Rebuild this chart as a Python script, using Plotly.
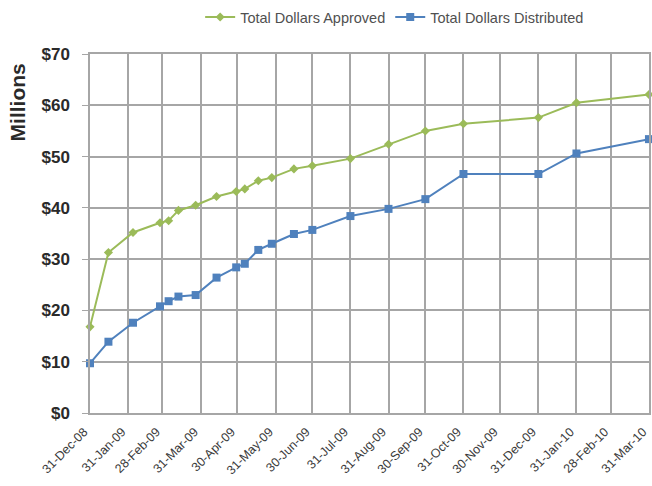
import plotly.graph_objects as go

dates = ["2008-12-31", "2009-01-15", "2009-02-04", "2009-02-26", "2009-03-05",
         "2009-03-13", "2009-03-27", "2009-04-13", "2009-04-29", "2009-05-06",
         "2009-05-17", "2009-05-28", "2009-06-15", "2009-06-30", "2009-07-31",
         "2009-08-31", "2009-09-30", "2009-10-31", "2009-12-31", "2010-01-31",
         "2010-03-31"]
approved = [16.8, 31.3, 35.2, 37.1, 37.5, 39.5, 40.5, 42.2, 43.2, 43.7,
            45.3, 45.9, 47.6, 48.2, 49.6, 52.4, 55.0, 56.4, 57.6, 60.5, 62.1]
distributed = [9.7, 13.9, 17.6, 20.8, 21.8, 22.7, 23.0, 26.4, 28.4, 29.1,
               31.8, 33.0, 34.9, 35.7, 38.4, 39.8, 41.7, 46.6, 46.6, 50.6, 53.4]

tick_dates = ["2008-12-31", "2009-01-31", "2009-02-28", "2009-03-31", "2009-04-30",
              "2009-05-31", "2009-06-30", "2009-07-31", "2009-08-31", "2009-09-30",
              "2009-10-31", "2009-11-30", "2009-12-31", "2010-01-31", "2010-02-28",
              "2010-03-31"]
tick_labels = ["31-Dec-08", "31-Jan-09", "28-Feb-09", "31-Mar-09", "30-Apr-09",
               "31-May-09", "30-Jun-09", "31-Jul-09", "31-Aug-09", "30-Sep-09",
               "31-Oct-09", "30-Nov-09", "31-Dec-09", "31-Jan-10", "28-Feb-10",
               "31-Mar-10"]
y_ticks = [0, 10, 20, 30, 40, 50, 60, 70]
y_labels = ["$0", "$10", "$20", "$30", "$40", "$50", "$60", "$70"]

fig = go.Figure()
fig.add_trace(go.Scatter(
    x=dates, y=approved, name="Total Dollars Approved", mode="lines+markers",
    line=dict(color="#9BBB59", width=2),
    marker=dict(symbol="diamond", size=7, color="#9BBB59"),
    cliponaxis=False,
))
fig.add_trace(go.Scatter(
    x=dates, y=distributed, name="Total Dollars Distributed", mode="lines+markers",
    line=dict(color="#4F81BD", width=2),
    marker=dict(symbol="square", size=8, color="#4F81BD"),
    cliponaxis=False,
))

grid = "#a6a6a6"
fig.update_layout(
    width=652, height=486,
    margin=dict(l=90, r=3, t=54, b=73, autoexpand=False),
    paper_bgcolor="white", plot_bgcolor="white",
    font=dict(family="Liberation Sans, Arial", color="#404040"),
    legend=dict(orientation="h", x=0.545, xanchor="center", y=1.103, yanchor="middle",
                font=dict(size=14.5, family="Liberation Sans, Arial", color="#505050"),
                itemwidth=30, tracegroupgap=0),
    xaxis=dict(
        type="date", range=["2008-12-31", "2010-03-31 01:00"],
        tickmode="array", tickvals=tick_dates, ticktext=tick_labels,
        tickangle=-45, tickfont=dict(size=12.5, color="#3a3a3a", family="Liberation Sans, Arial"),
        ticklabeloverflow="allow", ticklabelshift=-6,
        showgrid=True, gridcolor=grid, gridwidth=1.5,
        showline=True, linecolor=grid, linewidth=1.5, mirror=True,
        ticks="outside", ticklen=5, tickcolor="rgba(0,0,0,0)",
        zeroline=False, automargin=False,
    ),
    yaxis=dict(
        range=[0, 70], tickmode="array", tickvals=y_ticks,
        ticktext=["<b>" + t + "</b>" for t in y_labels],
        tickfont=dict(size=17, color="#2a2a2a", family="Liberation Sans, Arial"),
        showgrid=True, gridcolor=grid, gridwidth=1.5,
        showline=True, linecolor=grid, linewidth=1.5, mirror=True,
        ticks="outside", ticklen=6, tickcolor=grid, ticklabelstandoff=9,
        zeroline=False, automargin=False,
    ),
    annotations=[dict(
        text="<b>Millions</b>", xref="paper", yref="paper",
        x=-0.130, y=0.866, xanchor="center", yanchor="middle",
        textangle=-90, showarrow=False,
        font=dict(size=21, color="#2a2a2a", family="Liberation Sans, Arial"),
    )],
)

fig.write_html(
    "out.html",
    config={"displayModeBar": False},
    post_script="document.body.style.margin='0';document.body.style.overflow='hidden';",
)
